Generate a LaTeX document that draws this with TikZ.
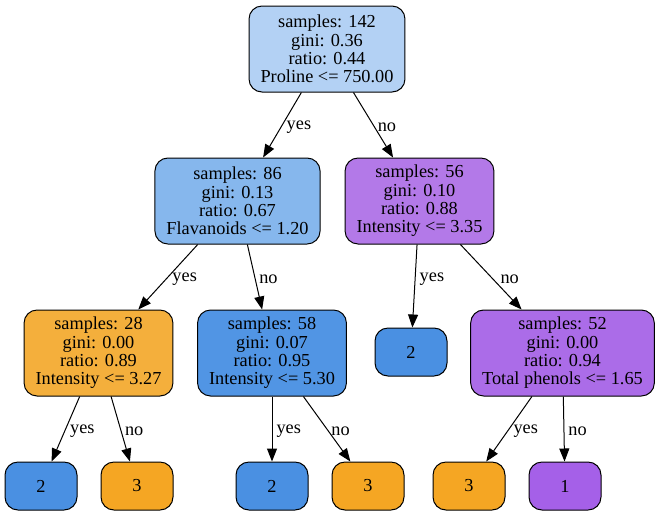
\documentclass[tikz,border=0pt]{standalone}
\usepackage{fontspec}
\setmainfont{Liberation Serif}
\usetikzlibrary{arrows.meta}
\definecolor{rootblue}{RGB}{179,209,244}
\definecolor{midblue}{RGB}{134,183,237}
\definecolor{deepblue}{RGB}{81,149,228}
\definecolor{leafblue}{RGB}{74,144,226}
\definecolor{midorange}{RGB}{244,175,60}
\definecolor{leaforange}{RGB}{245,166,35}
\definecolor{midpurple}{RGB}{179,121,232}
\definecolor{deeppurple}{RGB}{171,108,232}
\definecolor{leafpurple}{RGB}{165,96,232}

\begin{document}
\begin{tikzpicture}[x=1pt,y=-1pt,
    font=\fontsize{18.3}{18.3}\selectfont,
    split/.style={draw,line width=1pt,rounded corners=13pt,align=center,minimum height=86pt,inner xsep=11.5pt},
    leaf/.style={draw,line width=1pt,rounded corners=13pt,minimum width=72pt,minimum height=48pt},
    branch/.style={line width=1pt,-{Triangle[length=13pt,width=10pt]}},
    ans/.style={right,inner sep=4pt,yshift=-2pt}]
                \useasboundingbox (0,0) rectangle (661,515);
                \node[split,fill=rootblue] (root) at (327,49) {samples: 142\\gini: 0.36\\ratio: 0.44\\Proline <= 750.00};
                \node[split,fill=midblue] (l) at (237.5,201) {samples: 86\\gini: 0.13\\ratio: 0.67\\Flavanoids <= 1.20};
                \node[split,fill=midpurple] (r) at (419.5,201) {samples: 56\\gini: 0.10\\ratio: 0.88\\Intensity <= 3.35};
                \node[split,fill=midorange] (ll) at (98.5,353) {samples: 28\\gini: 0.00\\ratio: 0.89\\Intensity <= 3.27};
                \node[split,fill=deepblue] (lr) at (272,353) {samples: 58\\gini: 0.07\\ratio: 0.95\\Intensity <= 5.30};
                \node[leaf,fill=leafblue] (rl) at (411,352) {2};
                \node[split,fill=deeppurple] (rr) at (562.5,353) {samples: 52\\gini: 0.00\\ratio: 0.94\\Total phenols <= 1.65};
                \node[leaf,fill=leafblue] (lll) at (41,486) {2};
                \node[leaf,fill=leaforange] (llr) at (137,486) {3};
                \node[leaf,fill=leafblue] (lrl) at (272,486) {2};
                \node[leaf,fill=leaforange] (lrr) at (368,486) {3};
                \node[leaf,fill=leaforange] (rrl) at (469,486) {3};
                \node[leaf,fill=leafpurple] (rrr) at (565,486) {1};
                \draw[branch] (root) -- node[ans] {yes} (l);
                \draw[branch] (root) -- node[ans] {no} (r);
                \draw[branch] (l) -- node[ans] {yes} (ll);
                \draw[branch] (l) -- node[ans] {no} (lr);
                \draw[branch] (r) -- node[ans,pos=0.39] {yes} (rl);
                \draw[branch] (r) -- node[ans,xshift=5pt] {no} (rr);
                \draw[branch] (ll) -- node[ans] {yes} (lll);
                \draw[branch] (ll) -- node[ans] {no} (llr);
                \draw[branch] (lr) -- node[ans] {yes} (lrl);
                \draw[branch] (lr) -- node[ans] {no} (lrr);
                \draw[branch] (rr) -- node[ans] {yes} (rrl);
                \draw[branch] (rr) -- node[ans] {no} (rrr);
            \end{tikzpicture}
\end{document}
